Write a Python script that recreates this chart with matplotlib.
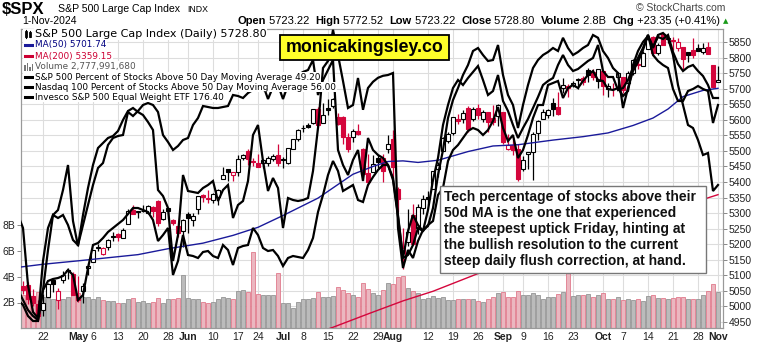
import numpy as np
import pandas as pd
import matplotlib
matplotlib.use("Agg")
import matplotlib.pyplot as plt
from matplotlib.patches import Rectangle
from matplotlib.lines import Line2D

# trading days on the chart (Apr 15 .. Nov 1 2024)
days = pd.bdate_range("2024-04-15", "2024-11-01")
days = days.drop(pd.to_datetime(["2024-05-27", "2024-06-19", "2024-07-04", "2024-09-02"]))

prev_close = 5123.41  # Apr 12 close

opens = [5149.67, 5064.59, 5068.97, 5031.52, 5005.44, 4987.33, 5028.85, 5084.86, 5019.88, 5084.65, 5114.13, 5103.78,
         5029.03, 5049.32, 5122.78, 5142.42, 5187.20, 5168.98, 5189.03, 5225.49, 5233.08, 5221.10, 5263.26, 5310.07, 5303.10, 5305.35, 5298.69, 5319.28, 5340.26, 5281.45, 5315.91, 5278.73, 5259.77, 5243.21,
         5297.15, 5278.24, 5314.48, 5357.80, 5343.81, 5341.22, 5353.00, 5409.13, 5441.93, 5424.08, 5431.11, 5476.15, 5499.99, 5466.77, 5459.58, 5460.73, 5460.71, 5473.59, 5488.48,
         5471.08, 5461.84, 5507.44, 5537.91, 5572.75, 5584.24, 5591.26, 5635.21, 5590.76, 5638.16, 5644.09, 5610.07, 5608.56, 5543.37, 5544.54, 5565.30, 5505.84, 5428.70, 5433.67, 5476.55, 5478.73, 5505.59,
         5537.84, 5376.63, 5151.14, 5206.42, 5293.13, 5252.57, 5314.63, 5351.15, 5376.98, 5442.78, 5501.31, 5530.50, 5557.23, 5602.88, 5603.09, 5637.77, 5602.00, 5639.66, 5602.89, 5624.51, 5607.30, 5612.74,
         5623.89, 5506.68, 5520.08, 5507.33, 5442.07, 5490.51, 5496.42, 5557.48, 5603.34, 5615.21, 5655.51, 5641.68, 5702.63, 5709.70, 5711.90, 5727.07, 5733.65, 5762.22, 5755.36, 5726.52,
         5757.73, 5698.19, 5698.19, 5737.80, 5737.80, 5719.14, 5751.80, 5778.36, 5775.09, 5829.81, 5866.74, 5816.58, 5875.62, 5859.43, 5857.82, 5832.70, 5834.50, 5817.80, 5826.75, 5830.20, 5819.68, 5835.50, 5775.34,
         5723.22]
highs = [5168.43, 5079.84, 5077.96, 5056.66, 5019.02, 5038.84, 5076.12, 5089.48, 5057.75, 5114.62, 5123.49, 5110.83,
         5096.12, 5073.21, 5139.12, 5181.00, 5200.23, 5191.95, 5215.30, 5239.66, 5237.26, 5250.37, 5311.76, 5325.49, 5305.45, 5325.32, 5324.32, 5323.18, 5341.88, 5311.65, 5315.91, 5282.26, 5260.21, 5280.33,
         5302.11, 5298.80, 5354.16, 5362.35, 5375.08, 5365.79, 5375.95, 5447.25, 5441.93, 5432.39, 5488.50, 5490.38, 5505.53, 5478.31, 5490.66, 5472.88, 5483.14, 5490.81, 5523.64,
         5479.55, 5509.69, 5539.27, 5570.33, 5583.11, 5590.75, 5635.39, 5642.45, 5655.56, 5666.94, 5669.67, 5622.49, 5614.05, 5557.50, 5570.36, 5585.34, 5508.04, 5491.59, 5488.32, 5487.74, 5489.46, 5551.51,
         5566.16, 5383.89, 5250.89, 5312.34, 5330.64, 5328.03, 5358.13, 5371.20, 5436.50, 5463.22, 5546.23, 5561.98, 5608.30, 5620.51, 5632.68, 5643.22, 5641.82, 5651.62, 5631.18, 5627.03, 5646.95, 5651.37,
         5623.89, 5552.99, 5546.30, 5522.47, 5484.20, 5497.91, 5560.41, 5600.71, 5636.27, 5636.05, 5670.81, 5689.75, 5733.57, 5715.14, 5725.36, 5735.32, 5741.03, 5767.37, 5763.78, 5765.14,
         5757.73, 5719.14, 5718.78, 5753.49, 5739.34, 5757.60, 5796.80, 5795.03, 5822.13, 5871.41, 5870.36, 5846.52, 5878.46, 5872.17, 5866.92, 5863.04, 5834.85, 5817.80, 5862.82, 5842.92, 5847.19, 5850.94, 5775.34,
         5772.52]
lows = [5052.47, 5039.83, 5007.25, 5001.89, 4953.56, 4969.40, 5027.96, 5047.02, 4990.58, 5073.14, 5088.65, 5035.31,
        5013.45, 5011.05, 5101.22, 5142.42, 5178.96, 5165.86, 5180.41, 5209.68, 5211.16, 5217.98, 5263.26, 5296.19, 5283.59, 5302.40, 5297.87, 5286.01, 5256.93, 5278.39, 5280.89, 5262.70, 5222.10, 5191.68,
        5234.32, 5257.63, 5297.64, 5335.36, 5331.33, 5331.52, 5327.25, 5409.13, 5402.51, 5403.75, 5420.40, 5471.32, 5455.56, 5452.03, 5447.59, 5446.56, 5451.87, 5467.54, 5451.12,
        5446.53, 5458.43, 5507.42, 5531.63, 5562.51, 5574.57, 5586.44, 5576.53, 5590.44, 5614.75, 5639.02, 5584.81, 5522.81, 5497.04, 5529.04, 5550.90, 5419.98, 5390.95, 5430.70, 5444.44, 5398.75, 5493.75,
        5410.42, 5302.03, 5119.26, 5193.56, 5195.54, 5233.85, 5295.89, 5324.37, 5376.98, 5415.01, 5501.31, 5525.17, 5550.74, 5585.50, 5591.57, 5560.95, 5595.28, 5602.34, 5593.48, 5560.95, 5583.71, 5581.79,
        5522.21, 5503.66, 5486.85, 5402.62, 5434.49, 5441.72, 5406.96, 5535.50, 5601.65, 5604.53, 5614.05, 5615.08, 5686.42, 5674.49, 5704.94, 5698.99, 5712.06, 5721.01, 5727.34, 5703.53,
        5681.28, 5674.00, 5677.00, 5702.83, 5686.85, 5714.56, 5745.02, 5764.76, 5775.09, 5829.81, 5804.48, 5808.34, 5840.25, 5846.11, 5824.40, 5821.17, 5762.41, 5784.92, 5799.98, 5823.08, 5811.87, 5811.28, 5702.86,
        5723.22]
closes = [5061.82, 5051.41, 5022.21, 5011.12, 4967.23, 5010.60, 5070.55, 5071.63, 5048.42, 5099.96, 5116.17, 5035.69,
          5018.39, 5064.20, 5127.79, 5180.74, 5187.70, 5187.67, 5214.08, 5222.68, 5221.42, 5246.68, 5308.15, 5297.10, 5303.27, 5308.13, 5321.41, 5307.01, 5267.84, 5304.72, 5306.04, 5266.95, 5235.48, 5277.51,
          5283.40, 5291.34, 5354.03, 5352.96, 5346.99, 5360.79, 5375.32, 5421.03, 5433.74, 5431.60, 5473.23, 5487.03, 5473.17, 5464.62, 5447.87, 5469.30, 5477.90, 5482.87, 5460.48,
          5475.09, 5509.01, 5537.02, 5567.19, 5572.85, 5576.98, 5633.91, 5584.54, 5615.35, 5631.22, 5667.20, 5588.27, 5544.59, 5505.00, 5564.41, 5555.74, 5427.13, 5399.22, 5459.10, 5463.54, 5436.44, 5522.30,
          5446.68, 5346.56, 5186.33, 5240.03, 5199.50, 5319.31, 5344.16, 5344.39, 5434.43, 5455.21, 5543.22, 5554.25, 5608.25, 5597.12, 5620.85, 5570.64, 5634.61, 5616.84, 5625.80, 5592.18, 5591.96, 5648.40,
          5528.93, 5520.07, 5503.41, 5408.42, 5471.05, 5495.52, 5554.13, 5595.76, 5626.02, 5633.09, 5634.58, 5618.26, 5713.64, 5702.55, 5718.57, 5732.93, 5722.26, 5745.37, 5738.17, 5762.48,
          5708.75, 5709.54, 5699.94, 5751.07, 5695.94, 5751.13, 5792.04, 5780.05, 5815.03, 5859.85, 5815.26, 5842.47, 5841.47, 5864.67, 5853.98, 5851.20, 5797.42, 5809.86, 5808.12, 5823.52, 5832.92, 5813.67, 5705.45,
          5728.80]

# volume, billions
volume = [2.6, 2.55, 2.5, 2.45, 2.8, 2.4, 2.35, 2.3, 2.45, 2.3, 2.4, 2.6,
          2.75, 2.45, 2.45, 2.3, 2.45, 2.2, 2.15, 2.1, 2.0, 2.0, 2.3, 2.35, 2.05, 2.1, 2.0, 2.05, 2.35, 2.0, 2.25, 2.25, 2.35, 4.15,
          2.35, 2.3, 2.3, 2.05, 1.95, 2.05, 2.3, 2.45, 2.35, 2.3, 2.9, 2.95, 2.85, 5.9, 2.65, 2.6, 2.6, 2.55, 4.3,
          2.0, 1.95, 1.6, 2.05, 2.3, 2.25, 2.35, 2.85, 2.45, 2.45, 2.5, 3.2, 2.95, 2.7, 2.6, 2.45, 3.5, 3.05, 2.7, 2.6, 2.95, 3.5,
          3.4, 3.95, 4.05, 3.1, 2.9, 2.7, 2.3, 2.35, 2.5, 2.35, 2.4, 2.2, 2.2, 2.25, 2.3, 2.3, 2.25, 2.1, 2.05, 2.3, 2.4, 2.75,
          2.85, 2.45, 2.45, 2.9, 2.55, 2.55, 2.75, 2.55, 2.3, 2.4, 2.4, 2.65, 2.8, 4.3, 2.5, 2.6, 2.55, 2.65, 2.4, 2.6,
          2.7, 2.25, 2.25, 2.4, 2.2, 2.25, 2.2, 2.25, 2.15, 2.5, 2.6, 2.35, 2.35, 2.25, 2.35, 2.45, 2.4, 2.3, 2.3, 2.3, 2.55, 2.9, 3.4,
          2.78]

# overlays (each one has its own hidden scale)
spx_pct50 = [41.7, 38.45, 24.2, 17.45, 15.95, 30.2, 38.45, 41.7, 42.95, 47.95, 54.2, 40.2,
             33.95, 41.7, 48.45, 54.2, 58.45, 59.7, 60.95, 61.45, 62.7, 65.45, 67.7, 68.45, 67.45, 66.7, 64.95, 62.95, 47.95, 46.45, 43.45, 30.2, 36.7, 51.7,
             47.7, 47.45, 47.2, 48.45, 49.2, 50.2, 45.2, 47.95, 49.2, 40.95, 44.2, 45.2, 50.2, 61.7, 64.2, 55.2, 47.7, 50.95, 48.45,
             38.45, 45.95, 45.45, 45.2, 45.45, 45.95, 52.7, 63.45, 78.45, 80.2, 88.0, 81.7, 75.2, 68.45, 69.2, 75.95, 68.0, 73.45, 75.0, 76.0, 76.5, 76.7,
             77.2, 38.45, 28.45, 32.95, 30.95, 35.2, 37.95, 38.95, 43.45, 51.7, 57.95, 65.95, 70.45, 73.45, 76.7, 79.2, 82.7, 83.45, 81.7, 80.2, 80.45, 84.2,
             76.7, 71.7, 69.2, 63.45, 69.2, 74.2, 78.45, 80.45, 81.7, 82.45, 83.45, 82.7, 86.0, 83.45, 81.7, 82.45, 83.45, 84.2, 86.7, 86.0,
             82.7, 80.95, 78.45, 77.2, 68.45, 73.45, 77.7, 79.95, 82.95, 86.7, 83.45, 86.7, 87.2, 86.0, 81.7, 74.2, 69.2, 64.2, 63.45, 60.45, 56.7, 57.2, 47.7,
             49.2]
ndx_pct50 = [7.25, 6, 3.25, 2, 2, 9.75, 19.75, 28.5, 27.75, 28.5, 26, 22.25,
             21, 26, 31, 36, 40.25, 41.5, 46, 47.75, 48.25, 48.5, 54.25, 53.25, 54.5, 56, 56.5, 56, 54.25, 48.5, 46.75, 44.75, 45.75, 47.25,
             47.75, 51, 52.75, 55.75, 55.5, 55.25, 55.25, 55.5, 55.75, 58.5, 58.25, 57.75, 59, 59.75, 60.25, 61, 57.5, 60.5, 61,
             57.5, 61, 62.25, 63.5, 64.25, 64.75, 67.25, 58.5, 62.25, 64.75, 67.25, 44.75, 41, 38.5, 42.25, 44.75, 37, 47.75, 44.75, 43.5, 42.75, 41,
             37.75, 28.5, 17.75, 24.5, 28.5, 26, 24.5, 29.75, 37.25, 42.75, 51, 56, 60.25, 62.25, 61, 62.75, 64.25, 65.75, 62.25, 58.5, 59.5, 63.5,
             57, 54.5, 51, 47.75, 50.25, 52.5, 55.25, 58, 61, 62, 62.75, 66, 68.5, 66, 64.5, 65, 66, 67, 67.75, 71,
             64.5, 63, 63, 59.75, 60.25, 62.25, 65.25, 67.75, 70.25, 73.5, 68.5, 67, 66, 65.25, 60, 57, 57, 59.5, 60, 60.75, 60, 59.5, 51.5,
             56.0]
rsp = [157.2, 156.2, 155.2, 154.6, 154.2, 157.2, 158.1, 158.3, 158.4, 158.6, 159.2, 158.7,
       156.2, 156.7, 159.4, 161.7, 161.9, 162.4, 163.0, 163.4, 163.8, 164.2, 164.8, 165.4, 165.4, 165.2, 165.0, 164.2, 162.1, 162.7, 163.4, 158.7, 160.1, 162.7,
       160.7, 160.6, 160.4, 161.0, 161.1, 160.6, 160.4, 161.7, 161.2, 159.7, 161.4, 161.6, 161.7, 163.4, 162.7, 161.4, 161.1, 161.2, 160.6,
       159.6, 160.4, 160.6, 160.5, 160.4, 161.2, 162.4, 165.0, 166.7, 168.7, 170.1, 169.1, 167.1, 167.4, 167.7, 166.2, 166.0, 167.7, 168.5, 169.2, 169.7, 169.7,
       168.2, 164.5, 160.4, 160.7, 161.7, 163.4, 163.1, 163.7, 164.1, 166.7, 167.4, 170.1, 171.2, 171.7, 172.4, 173.1, 173.4, 173.2, 172.7, 173.2, 174.1, 175.5,
       173.4, 172.1, 172.7, 170.4, 171.2, 172.7, 174.4, 175.7, 175.7, 177.7, 177.9, 178.1, 176.4, 177.4, 177.7, 177.4, 178.1, 178.7, 179.1, 178.2,
       178.1, 177.3, 177.2, 177.4, 176.6, 177.1, 179.7, 181.1, 182.0, 182.6, 181.5, 182.5, 182.3, 182.7, 181.0, 179.8, 179.1, 179.5, 179.7, 179.1, 178.6, 177.7, 176.4,
       176.4]

# moving averages read at a few dates
ma50_dates = ["2024-04-15", "2024-04-22", "2024-05-01", "2024-05-17", "2024-05-28", "2024-06-06", "2024-06-14",
              "2024-06-24", "2024-07-01", "2024-07-11", "2024-07-22", "2024-07-26", "2024-07-31", "2024-08-05",
              "2024-08-08", "2024-08-14", "2024-08-22", "2024-08-29", "2024-09-06", "2024-09-17", "2024-09-25",
              "2024-10-02", "2024-10-09", "2024-10-15", "2024-10-18", "2024-10-23", "2024-10-29", "2024-11-01"]
ma50_vals = [5125, 5135, 5146, 5166, 5185, 5203, 5228, 5254, 5292, 5348, 5425, 5450, 5466, 5468,
             5463, 5470, 5498, 5516, 5520, 5535, 5546, 5558, 5582, 5606, 5635, 5675, 5695, 5701.74]
ma200_dates = ["2024-07-11", "2024-07-16", "2024-07-25", "2024-08-05", "2024-08-13", "2024-08-26",
               "2024-09-06", "2024-09-20", "2024-10-04", "2024-10-18", "2024-11-01"]
ma200_vals = [4915, 4932, 4975, 5017, 5048, 5105, 5148, 5200, 5255, 5308, 5359.15]

tick_dates = ["2024-04-22", "2024-05-01", "2024-05-06", "2024-05-13", "2024-05-20", "2024-05-28",
              "2024-06-03", "2024-06-10", "2024-06-17", "2024-06-24", "2024-07-01", "2024-07-08",
              "2024-07-15", "2024-07-22", "2024-07-29", "2024-08-01", "2024-08-12", "2024-08-19",
              "2024-08-26", "2024-09-03", "2024-09-09", "2024-09-16", "2024-09-23", "2024-10-01",
              "2024-10-07", "2024-10-14", "2024-10-21", "2024-10-28", "2024-11-01"]
tick_labels = ["22", "May", "6", "13", "20", "28", "Jun", "10", "17", "24", "Jul", "8", "15", "22", "29",
               "Aug", "12", "19", "26", "Sep", "9", "16", "23", "Oct", "7", "14", "21", "28", "Nov"]
months = ["May", "Jun", "Jul", "Aug", "Sep", "Oct", "Nov"]

# ---------------------------------------------------------------
W, H = 757, 344
fig = plt.figure(figsize=(W / 100, H / 100), dpi=100)
fig.patch.set_facecolor("white")


def fx(x):
    return x / W


def fy(y):
    return 1 - y / H


L, R, T, B = 21, 723, 29, 328.3
x = np.arange(len(days))
pos = lambda d: days.get_loc(pd.Timestamp(d))

ax_v = fig.add_axes([fx(L), fy(B), (R - L) / W, (B - T) / H])
ax_p = ax_v.twinx()
ax_v.set_xlim(0.6, 141)
ax_v.set_ylim(0, (B - T) / 12.9)
ax_p.set_ylim(4928.7, 5892.8)

# grid
ax_v.hlines(np.arange(4950, 5851, 50), 0.6, 141, colors="#dddddd", lw=0.8,
            transform=ax_p.transData, zorder=0)
tick_pos = [pos(d) for d in tick_dates]
for t in tick_pos:
    ax_v.axvline(t, color="#dddddd", lw=0.8, zorder=0)

# volume
c = np.array(closes)
o = np.array(opens)
pc = np.concatenate([[prev_close], c[:-1]])
up = c >= pc
vface = np.where(up, "#bbbbbb", "#ebb7c0")
vedge = np.where(up, "#959595", "#e07a8c")
ax_v.bar(x, volume, width=0.92, color=vface, edgecolor=vedge, lw=0.6, zorder=1)

# candles
red = "#d4063c"
ccol = np.where(up, "black", red)
face = np.where(c >= o, "white", ccol)
ax_p.vlines(x, lows, highs, colors=ccol, lw=0.9, zorder=2)
body = np.maximum(np.abs(c - o), 2.0)
ax_p.bar(x, body, bottom=np.minimum(c, o), width=0.62, color=face, edgecolor=ccol, lw=0.8, zorder=3)

# moving averages
ax_p.plot([pos(d) for d in ma50_dates], ma50_vals, color="#1a1a9a", lw=1.0, zorder=4)
ax_p.plot([pos(d) for d in ma200_dates], ma200_vals, color=red, lw=1.0, zorder=4)

# overlays, each on its own hidden scale
for vals, lim in [(rsp, (153.37, 183.3)), (ndx_pct50, (0.175, 75.0)), (spx_pct50, (13.375, 88.2))]:
    a = ax_v.twinx()
    a.set_ylim(*lim)
    a.axis("off")
    a.plot(x, vals, color="black", lw=1.6, solid_joinstyle="miter")

# axes styling
for a in (ax_v, ax_p):
    for s in a.spines.values():
        s.set_color("#999999")
        s.set_linewidth(0.8)
ax_p.set_yticks(np.arange(4950, 5851, 50))
ax_p.tick_params(axis="y", length=3, width=0.7, color="#888888", pad=1, labelsize=7.5, labelcolor="#222222")
for lab in ax_p.get_yticklabels():
    lab.set_fontfamily("Liberation Sans")
ax_v.set_yticks([2, 4, 6, 8])
ax_v.set_yticklabels(["2B", "4B", "6B", "8B"], fontfamily="Liberation Sans")
ax_v.tick_params(axis="y", length=3, width=0.7, color="#888888", pad=1, labelsize=7.5, labelcolor="#222222")
ax_v.set_xticks(tick_pos)
ax_v.set_xticklabels(tick_labels, fontfamily="Liberation Sans")
ax_v.tick_params(axis="x", length=0, pad=2.5, labelsize=7.5, labelcolor="#222222")
for lab in ax_v.get_xticklabels():
    if lab.get_text() in months:
        lab.set_fontweight("bold")

# header
fig.text(fx(2), fy(9), "$SPX", fontsize=12, fontweight="bold", family="Liberation Sans", va="center")
fig.text(fx(58), fy(9.5), "S&P 500 Large Cap Index", fontsize=7.6, family="Liberation Sans", va="center")
fig.text(fx(187), fy(9.5), "INDX", fontsize=6.3, family="Liberation Sans", va="center")
fig.text(fx(22), fy(21.5), "1-Nov-2024", fontsize=7.5, family="Liberation Sans", va="center")
fig.text(fx(725), fy(8), "\u00a9 StockCharts.com", fontsize=7.5, family="Liberation Sans",
         color="#444444", va="center", ha="right")

renderer = fig.canvas.get_renderer()
quote = [("Open", True), (" 5723.22  ", False), ("High", True), (" 5772.52  ", False),
         ("Low", True), (" 5723.22  ", False), ("Close", True), (" 5728.80  ", False),
         ("Volume", True), (" 2.8B  ", False), ("Chg", True), (" +23.35 (+0.41%)", False)]
xq = 237
for txt, bold in quote:
    t = fig.text(fx(xq), fy(21.5), txt, fontsize=8, family="Liberation Sans",
                 fontweight="bold" if bold else "normal", va="center")
    xq = t.get_window_extent(renderer).x1
fig.text(fx(xq + 3), fy(21), "\u25b2", fontsize=5, color="#1a9a1a", va="center")

# legend
rows = [("S&P 500 Large Cap Index (Daily) 5728.80", "black", 8.0),
        ("MA(50) 5701.74", "#000080", 6.4),
        ("MA(200) 5359.15", "#cc0033", 6.4),
        ("Volume 2,777,991,680", "#555555", 6.4),
        ("S&P 500 Percent of Stocks Above 50 Day Moving Average 49.20", "black", 6.4),
        ("Nasdaq 100 Percent of Stocks Above 50 Day Moving Average 56.00", "black", 6.4),
        ("Invesco S&P 500 Equal Weight ETF 176.40", "black", 6.4)]
row_y = [34, 45, 56, 66.5, 77, 87, 97]
for (txt, col, fs), yy in zip(rows, row_y):
    fig.text(fx(35), fy(yy), txt, fontsize=fs, color=col, va="center", family="DejaVu Sans",
             bbox=dict(facecolor="white", edgecolor="none", pad=0.6))
    bg = Rectangle((fx(23), fy(yy + 4.5)), 12 / W, 9 / H, transform=fig.transFigure,
                   facecolor="white", edgecolor="none", zorder=2)
    fig.add_artist(bg)
for yy, col in [(45, "#1a1a9a"), (56, "#cc0033"), (77, "black"), (87, "black"), (97, "black")]:
    fig.add_artist(Line2D([fx(25), fx(33)], [fy(yy), fy(yy)], color=col, lw=2.2,
                          transform=fig.transFigure, zorder=3))
# candle icon
for xi, y0, y1, b0, b1 in [(26, 38, 30, 36, 32), (30, 37, 31, 36, 33)]:
    fig.add_artist(Line2D([fx(xi), fx(xi)], [fy(y0), fy(y1)], color="black", lw=0.8,
                          transform=fig.transFigure, zorder=3))
    fig.add_artist(Line2D([fx(xi), fx(xi)], [fy(b0), fy(b1)], color="black", lw=2,
                          transform=fig.transFigure, zorder=3))
# volume icon
for xi, hh in [(25, 5), (27.5, 7), (30, 4), (32.5, 6)]:
    fig.add_artist(Rectangle((fx(xi - 0.8), fy(70.5)), 1.6 / W, hh / H, transform=fig.transFigure,
                             facecolor="#777777", edgecolor="none", zorder=3))

# yellow tag
fig.add_artist(Rectangle((fx(280), fy(60)), 169 / W, 25 / H, transform=fig.transFigure,
                         facecolor="#ffff2a", edgecolor="black", lw=1.3, zorder=5))
fig.text(fx(364.5), fy(47.5), "monicakingsley.co", fontsize=12.8, fontweight="bold",
         family="Liberation Sans", ha="center", va="center", zorder=6)

# comment box
fig.add_artist(Rectangle((fx(440), fy(273)), 266 / W, 87 / H, transform=fig.transFigure,
                         facecolor="white", edgecolor="#777777", lw=1.0, zorder=5))
notes = ["Tech percentage of stocks above their",
         "50d MA is the one that experienced",
         "the steepest uptick Friday, hinting at",
         "the bullish resolution to the current",
         "steep daily flush correction, at hand."]
for k, line in enumerate(notes):
    fig.text(fx(444), fy(197.5 + 15.8 * k), line, fontsize=10, fontweight="bold",
             family="Liberation Sans", va="center", color="#111111", zorder=6)

fig.savefig("out.png", dpi=100)
